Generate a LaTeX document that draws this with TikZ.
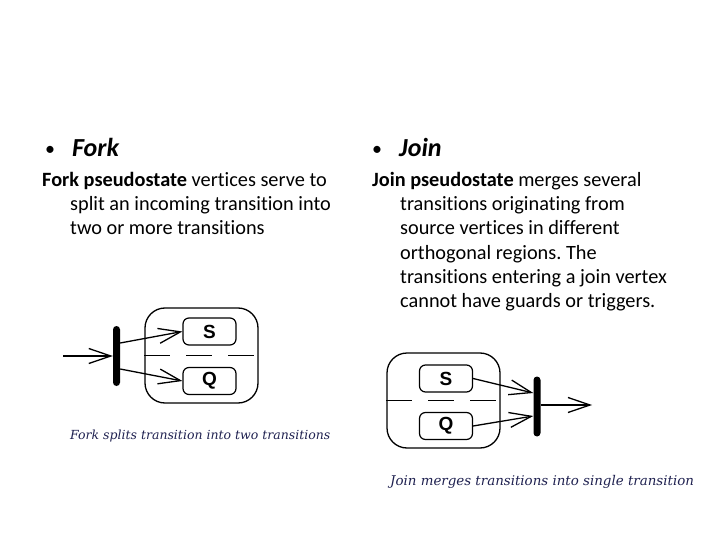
\documentclass[tikz,border=0pt]{standalone}
\usepackage{fontspec}
\setmainfont{Carlito}[Ligatures=NoCommon]
\newfontfamily\statefont{Liberation Sans}
\newfontfamily\capfont{DejaVu Serif}
\usetikzlibrary{arrows.meta,positioning}
\definecolor{capnavy}{HTML}{1F2150}
\frenchspacing

\begin{document}
\begin{tikzpicture}[x=1pt,y=-1pt,
  headtxt/.style={anchor=base west,inner sep=0pt,font=\fontsize{26}{30}\selectfont\bfseries\itshape},
  bullettxt/.style={anchor=base west,inner sep=0pt,font=\fontsize{20}{24}\selectfont},
  bodytxt/.style={anchor=base west,inner sep=0pt,font=\fontsize{20.3}{24}\selectfont},
  captxt/.style={anchor=base west,inner sep=0pt,text=capnavy,font=\fontsize{12.5}{15}\capfont\itshape},
  region/.style={draw,line width=1.3pt,rounded corners=20pt,minimum width=113pt,minimum height=95pt,inner sep=0pt},
  substate/.style={draw,line width=1.2pt,rounded corners=6pt,minimum width=53pt,minimum height=27pt,inner sep=0pt,font=\fontsize{19}{21}\statefont\bfseries},
  pseudobar/.style={fill,rounded corners=3.5pt,minimum width=7pt,minimum height=60pt,inner sep=0pt},
  trans/.style={line width=1.3pt,-{Straight Barb[length=22pt,width=15pt,line width=1.3pt]}},
  regionsep/.style={line width=1.3pt,dash pattern=on 26pt off 16pt}]
\useasboundingbox (0,0) rectangle (720,540);

% Left column: fork.
\node[bullettxt] (forkdot) at (45,156) {\textbullet};
\node[headtxt] (forkhead) at (72,157) {Fork};
\node[bodytxt] (forkl1) at (42,187) {\textbf{Fork pseudostate} vertices serve to};
\foreach \y/\txt [count=\i from 2] in {211/split an incoming transition into,235/two or more transitions}{
  \node[bodytxt] (forkl\i) at (70,\y) {\txt};
}

\node[region] (forkreg) at (201.5,355.5) {};
\node[substate] (forkS) at (209.5,331.5) {S};
\node[substate] (forkQ) at (209.5,381) {Q};
\draw[regionsep] (forkreg.west) -- (forkreg.east);
\node[pseudobar] (forkbar) at (116.5,356) {};
\coordinate (forkin) at (63,356);
\draw[trans] (forkin) -- (forkbar.west);
\draw[trans] ([yshift=13pt]forkbar.east) -- (forkS.west);
\draw[trans] ([yshift=-13pt]forkbar.east) -- (forkQ.west);
\node[captxt] (forkcap) at (70,439) {Fork splits transition into two transitions};

% Right column: join.
\node[bullettxt] (joindot) at (372,156) {\textbullet};
\node[headtxt] (joinhead) at (399,157) {Join};
\node[bodytxt] (joinl1) at (372,187) {\textbf{Join pseudostate} merges several};
\foreach \y/\txt [count=\i from 2] in {211/transitions originating from,235/source vertices in different,259/orthogonal regions. The,283/transitions entering a join vertex,307/cannot have guards or triggers.}{
  \node[bodytxt] (joinl\i) at (400,\y) {\txt};
}

\node[region] (joinreg) at (443.5,400.5) {};
\node[substate] (joinS) at (446,378.5) {S};
\node[substate] (joinQ) at (446,426) {Q};
\draw[regionsep] (joinreg.west) -- (joinreg.east);
\node[pseudobar] (joinbar) at (537,406.5) {};
\coordinate (joinout) at (592,405);
\draw[trans] (joinS.east) -- ([yshift=13.5pt]joinbar.west);
\draw[trans] (joinQ.east) -- ([yshift=-9.5pt]joinbar.west);
\draw[trans] ([yshift=1.5pt]joinbar.east) -- (joinout);
\node[captxt,font=\fontsize{13.4}{16}\capfont\itshape] (joincap) at (390,485) {Join merges transitions into single transition};
\end{tikzpicture}
\end{document}
